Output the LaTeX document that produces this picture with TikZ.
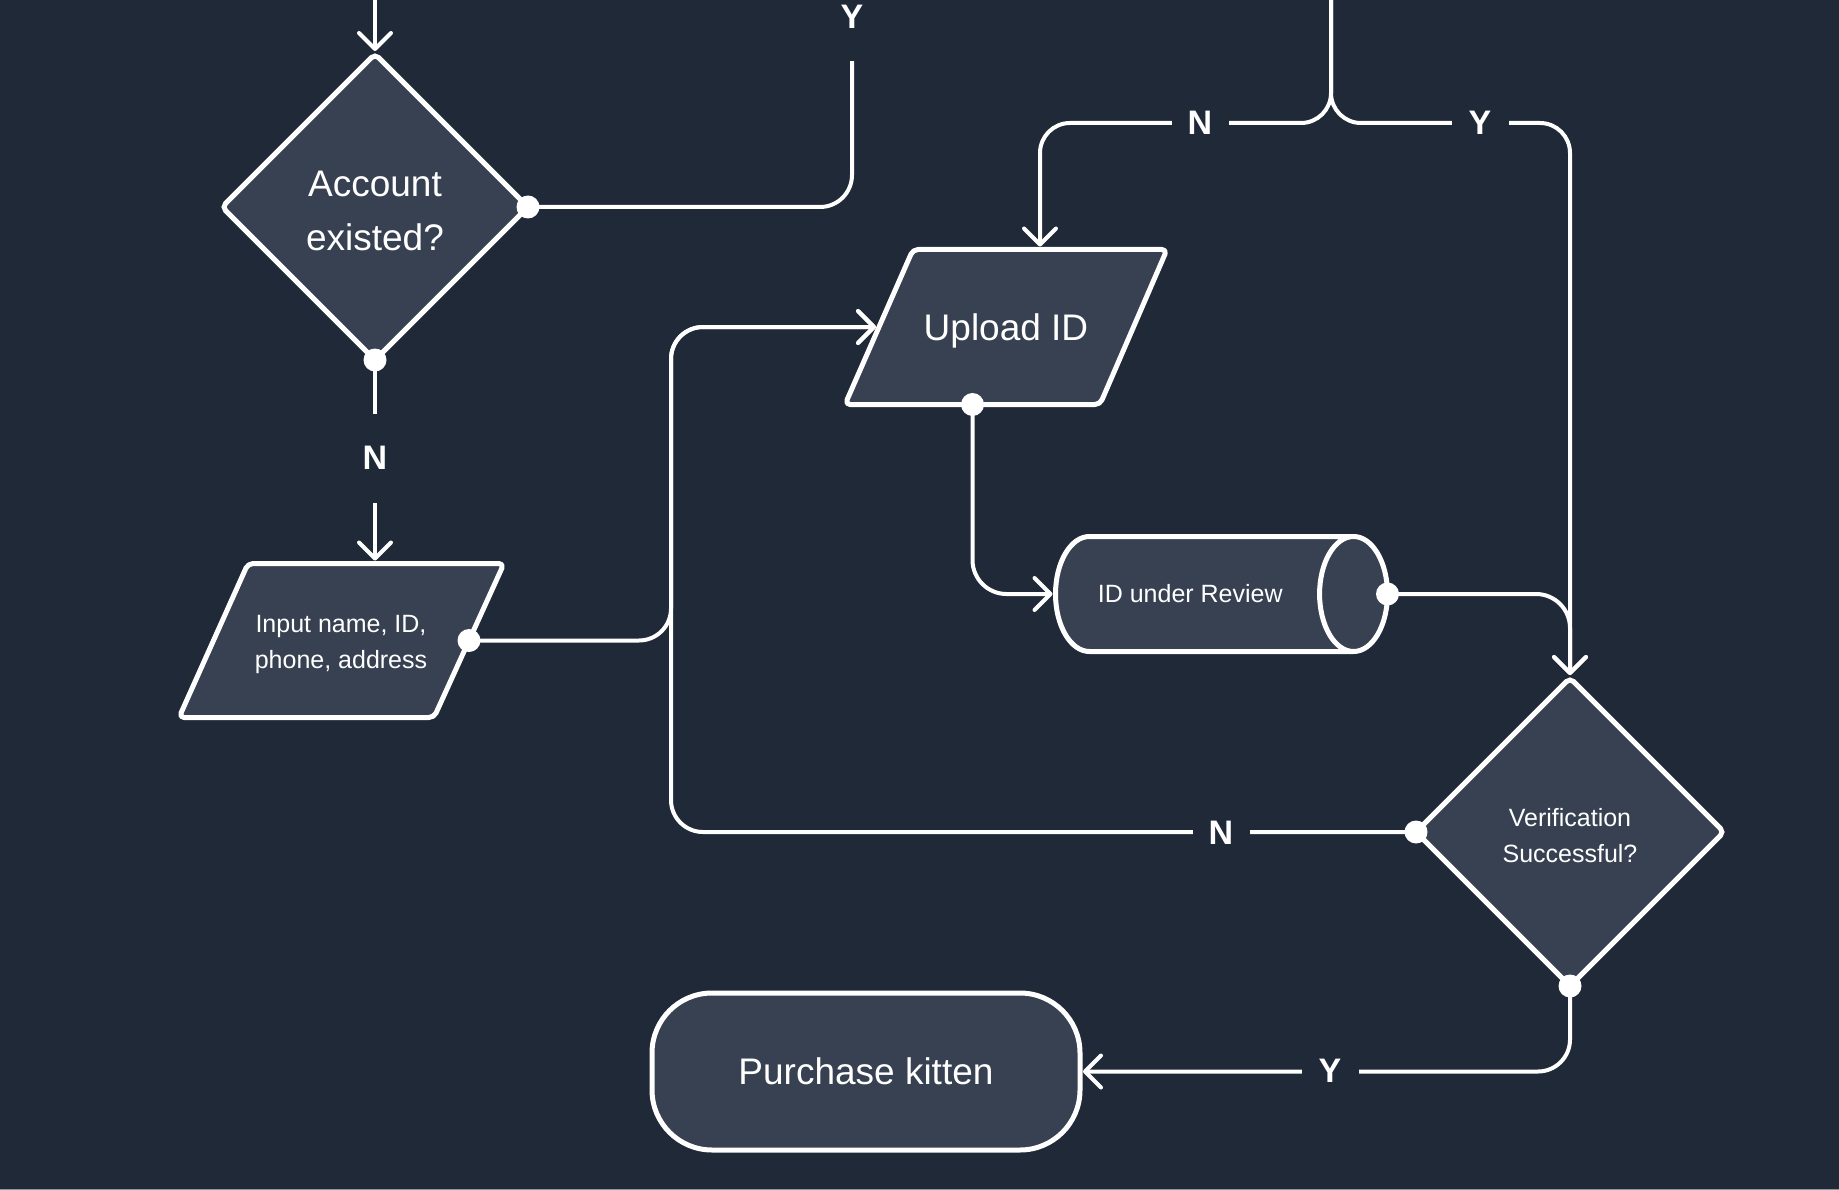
\documentclass[tikz,border=0pt]{standalone}
\usepackage{fontspec}
\setmainfont{Liberation Sans}
\usetikzlibrary{shapes.geometric,arrows.meta,calc}
\definecolor{bg}{HTML}{1F2937}
\definecolor{nodefill}{HTML}{374151}
\definecolor{rimline}{HTML}{8C95A3}
\begin{document}
\begin{tikzpicture}[x=1pt,y=-1pt,
  shapebox/.style={draw=white, fill=nodefill, line width=5pt, text=white, align=center, inner sep=0pt, outer sep=0pt},
  ioline/.style={draw=white, fill=nodefill, line width=5pt, rounded corners=5pt, line join=round},
  textonly/.style={text=white, align=center, inner sep=0pt},
  bigtext/.style={font=\fontsize{37}{54}\selectfont},
  smalltext/.style={font=\fontsize{25}{36}\selectfont},
  decision/.style={shapebox, diamond, minimum width=306pt, minimum height=306pt, rounded corners=5pt},
  conn/.style={draw=white, line width=4pt, rounded corners=32pt, line join=round},
  arr/.style={conn, -{Straight Barb[length=16pt,width=32pt,round]}, shorten >=3pt},
  dot/.style={fill=white},
  lbl/.style={fill=bg, text=white, font=\bfseries\fontsize{34}{34}\selectfont, inner sep=0pt, minimum width=57pt, minimum height=89pt}
]
\useasboundingbox (0,0) rectangle (1839,1190);
\fill[bg] (0,0) rectangle (1839,1190);
\fill[rimline] (0,1188.5) rectangle (1839,1190);

% parallelogram outlines (input / upload)
\draw[ioline] (248,563.5) -- (504,563.5) -- (434,717.5) -- (179,717.5) -- cycle;
\draw[ioline] (913,249.5) -- (1167,249.5) -- (1100,404.5) -- (845,404.5) -- cycle;
\coordinate (input-top) at (376,563.5);
\coordinate (input-right) at (469,640.5);
\coordinate (upload-top) at (1040,249.5);
\coordinate (upload-left) at (879,327);
\coordinate (upload-bottom) at (972.5,404.5);

% nodes
\node[decision] (acc) at (375,207) {};
\node[textonly, bigtext] (acc-text) at (375,211) {Account\\existed?};
\node[textonly, smalltext] (input) at (341,644) {Input name, ID,\\phone, address};
\node[textonly, bigtext] (upload) at (1006,331) {Upload ID};
\node[shapebox, smalltext, cylinder, aspect=3.7, minimum width=115pt, minimum height=332pt, anchor=west] (cyl) at (1055.5,594) {ID under Review\hspace*{26pt}};
\node[decision, minimum width=308pt, minimum height=308pt] (verif) at (1570,832) {};
\node[textonly, smalltext] (verif-text) at (1570,835.5) {Verification\\Successful?};
\node[shapebox, bigtext, rectangle, rounded corners=60pt, minimum width=428pt, minimum height=157pt] (kitten) at (866,1071.5) {Purchase kitten};

% free ends
\coordinate (accin) at (375,-5);
\coordinate (ytop) at (852,59);
\coordinate (topin) at (1331,-5);
\coordinate (busx) at (671,640);

% connectors
\draw[arr] (accin) -- (acc.north);
\draw[conn] (acc.east) -| (ytop);
\draw[arr] (acc.south) -- (acc.south |- input-top);
\draw[arr, rounded corners=30pt] (topin) |- (1200,123) -| (upload-top);
\draw[arr, rounded corners=30pt] (topin) |- (1480,123) -| (verif.north);
\draw[arr] (input-right) -| (busx |- upload-left) -- (upload-left);
\draw[arr] (verif.west) -| (busx |- upload-left) -- (upload-left);
\draw[arr, rounded corners=34pt] (upload-bottom) |- (cyl.west);
\draw[arr, rounded corners=34pt] (cyl.east) -| (verif.north);
\draw[arr] (verif.south) |- (kitten.east);

% dots
\foreach \p in {acc.east, acc.south, input-right, upload-bottom, cyl.east, verif.west, verif.south}
  \fill[dot] (\p) circle (11.5);

% labels
\node[lbl] (lY1) at (852,17) {Y};
\node[lbl] (lN1) at (375,458) {N};
\node[lbl] (lN2) at (1200,123) {N};
\node[lbl] (lY2) at (1480,123) {Y};
\node[lbl] (lN3) at (1221,833) {N};
\node[lbl] (lY3) at (1330,1071) {Y};
\end{tikzpicture}
\end{document}
